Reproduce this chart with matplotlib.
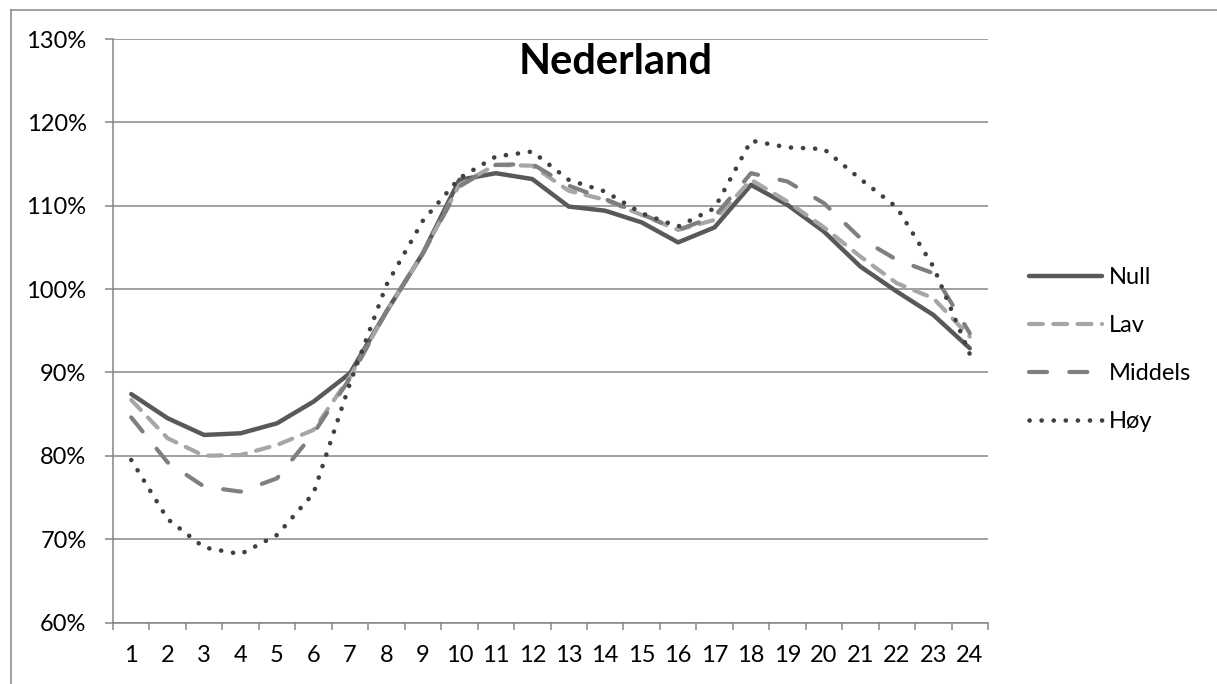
import matplotlib
matplotlib.use("Agg")
import matplotlib.pyplot as plt
from matplotlib.lines import Line2D
from matplotlib.ticker import FuncFormatter

plt.rcParams["font.family"] = ["Lato", "DejaVu Sans"]
plt.rcParams["lines.scale_dashes"] = False

# hour of day and index (% of daily average) per scenario
hours = list(range(1, 25))
null = [87.4, 84.5, 82.5, 82.7, 83.9, 86.5, 89.9, 97.3, 104.3, 113.1, 113.9, 113.2,
        109.9, 109.4, 108.0, 105.6, 107.4, 112.5, 110.1, 106.9, 102.7, 99.7, 96.9, 92.9]
lav = [86.7, 82.1, 80.0, 80.1, 81.3, 83.1, 89.5, 97.3, 104.3, 112.5, 114.9, 114.8,
       111.8, 110.7, 108.9, 107.1, 108.3, 113.1, 110.5, 107.4, 103.9, 100.7, 98.9, 94.3]
middels = [84.6, 79.2, 76.3, 75.7, 77.3, 82.7, 89.3, 97.3, 104.3, 112.3, 114.9, 115.0,
           112.4, 110.8, 109.0, 107.1, 108.7, 113.9, 112.9, 110.3, 106.1, 103.5, 101.9, 94.7]
hoy = [79.5, 72.4, 69.0, 68.2, 70.5, 75.5, 88.7, 100.5, 108.2, 113.3, 115.9, 116.5,
       113.1, 111.7, 109.1, 107.5, 109.7, 117.8, 117.0, 116.8, 113.2, 109.8, 102.7, 92.2]

GRID = "#868686"
W, H = 1217, 684

fig = plt.figure(figsize=(W / 100, H / 100), dpi=100)
ax = fig.add_axes([113 / W, 1 - 622.5 / H, (988 - 113) / W, (622.5 - 39) / H])

ax.plot(hours, null, color="#595959", lw=3.2, solid_capstyle="round",
        solid_joinstyle="round", label="Null")
ax.plot(hours, lav, color="#a6a6a6", lw=3.0, ls=(0, (10, 7.5)), dash_capstyle="round",
        label="Lav")
ax.plot(hours, middels, color="#7f7f7f", lw=3.0, ls=(0, (13, 16)), dash_capstyle="round",
        label="Middels")
ax.plot(hours, hoy, color="#404040", lw=3.3, ls=(0, (0.1, 8.6)), dash_capstyle="round",
        label="Høy")

ax.set_xlim(0.5, 24.5)
ax.set_ylim(60, 130)
ax.set_yticks(range(60, 131, 10))
ax.yaxis.set_major_formatter(FuncFormatter(lambda v, p: f"{v:.0f}%"))
ax.grid(axis="y", color=GRID, lw=1.1)
ax.set_axisbelow(True)

# Excel-style category axis: ticks between categories, labels centred
ax.set_xticks([h - 0.5 for h in hours] + [24.5])
ax.set_xticklabels([])
ax.set_xticks(hours, minor=True)
ax.set_xticklabels([str(h) for h in hours], minor=True)
ax.tick_params(axis="x", which="major", direction="out", length=5, width=1.1, color=GRID)
ax.tick_params(axis="x", which="minor", length=0, pad=16, labelsize=17)
ax.tick_params(axis="y", direction="out", length=6, width=1.1, color=GRID, pad=13,
               labelsize=17)

for s in ["top", "right"]:
    ax.spines[s].set_visible(False)
for s in ["left", "bottom"]:
    ax.spines[s].set_color(GRID)
    ax.spines[s].set_linewidth(1.1)

ax.text(0.574, 0.96, "Nederland", transform=ax.transAxes, ha="center", va="center",
        fontsize=30, fontweight="bold")

fig.legend(loc="center left", bbox_to_anchor=(1029 / W, 1 - 349.5 / H), frameon=False,
           fontsize=17, handlelength=3.1, handletextpad=0.3, labelspacing=1.14,
           borderpad=0, borderaxespad=0)

# outer chart frame (cut off at right and bottom)
fig.add_artist(Line2D([11 / W, 1], [1 - 10 / H, 1 - 10 / H], color=GRID, lw=1.1,
                      transform=fig.transFigure))
fig.add_artist(Line2D([11 / W, 11 / W], [0, 1 - 10 / H], color=GRID, lw=1.1,
                      transform=fig.transFigure))

fig.savefig("out.png", dpi=100)
